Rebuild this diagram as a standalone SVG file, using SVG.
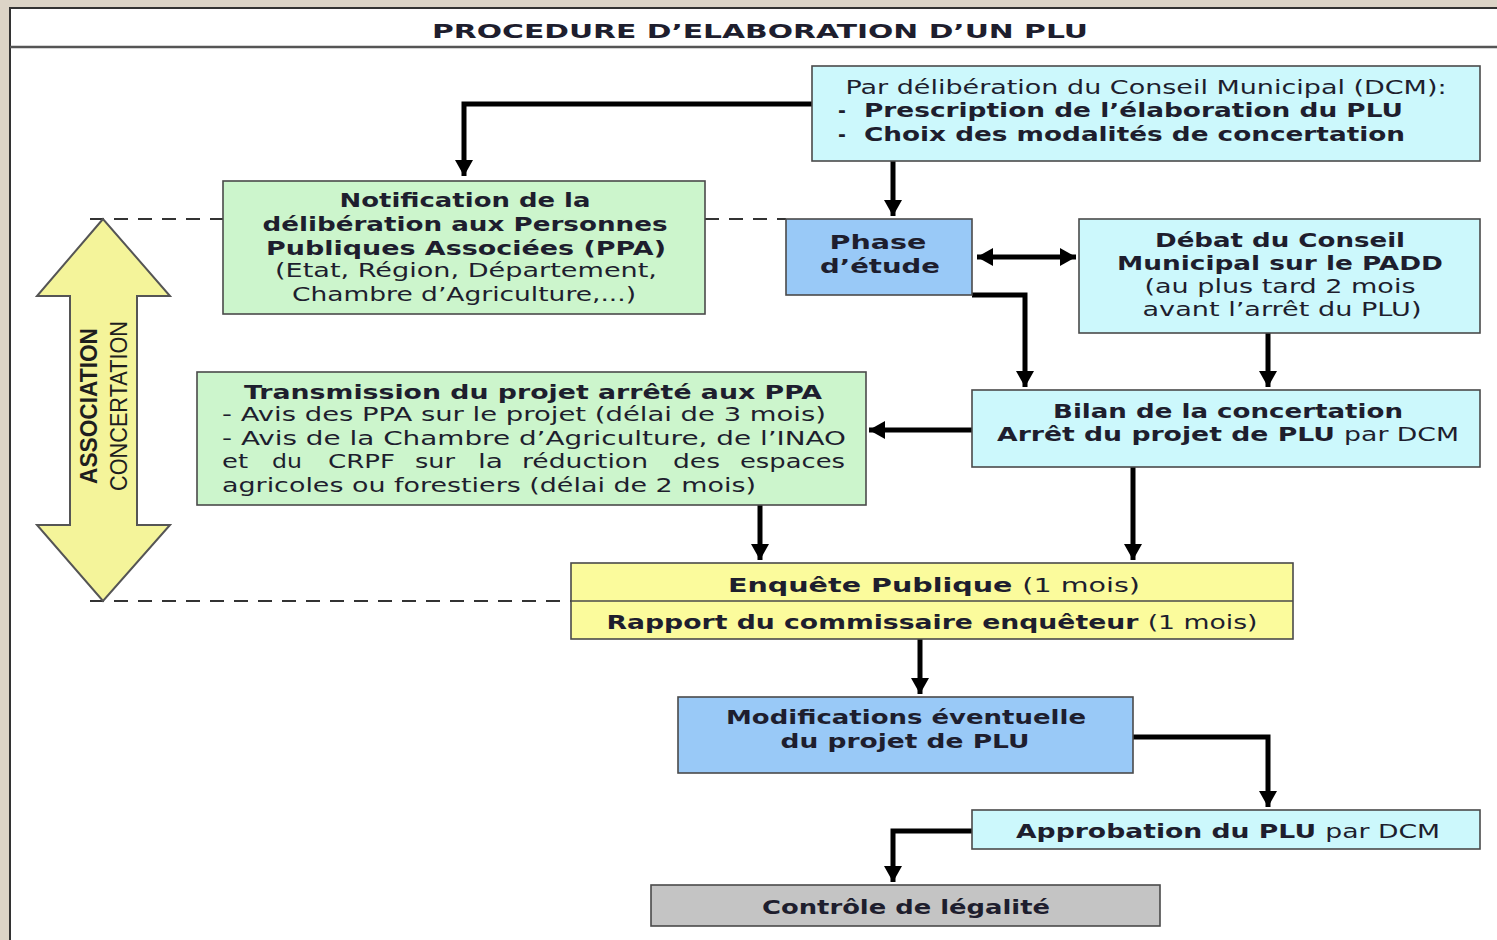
<svg xmlns="http://www.w3.org/2000/svg" width="1497" height="940" viewBox="0 0 1497 940">
<defs>
<style>
.box{stroke:#4a4a4a;stroke-width:1.6}
.cyan{fill:#ccf8fc}
.green{fill:#ccf5cc}
.blue{fill:#99c9f7}
.yellow{fill:#fbfb9c}
.grey{fill:#c4c4c4}
.t{font-family:"DejaVu Sans",Verdana,sans-serif;font-size:19px;fill:#1e1e2e;text-anchor:middle}
.s{text-anchor:start}
.b{font-weight:bold}
.n{font-weight:normal}
.conn{fill:none;stroke:#000;stroke-width:5}
.dash{fill:none;stroke:#333;stroke-width:2;stroke-dasharray:14 10}
</style>
<marker id="ah" markerUnits="userSpaceOnUse" markerWidth="20" markerHeight="20" refX="16" refY="9" orient="auto">
<path d="M0,0 L16,9 L0,18 Z" fill="#000"/>
</marker>
<marker id="as" markerUnits="userSpaceOnUse" markerWidth="20" markerHeight="20" refX="0" refY="9" orient="auto">
<path d="M16,0 L0,9 L16,18 Z" fill="#000"/>
</marker>
</defs>
<rect x="0" y="0" width="1497" height="940" fill="#dcd4c7"/>
<rect x="10" y="8" width="1500" height="940" fill="#ffffff" stroke="#333" stroke-width="2"/>
<line x1="10" y1="47" x2="1497" y2="47" stroke="#555" stroke-width="2.5"/>
<text class="t b" x="760" y="38" textLength="656" lengthAdjust="spacingAndGlyphs">PROCEDURE D’ELABORATION D’UN PLU</text>

<g id="dashes">
<path class="dash" d="M90,219 H223 M705,219 H786"/>
<path class="dash" d="M90,601 H571"/>
</g>

<g id="assoc-arrow">
<path d="M103,219 L37,296 L70,296 L70,525 L37,525 L103,601 L170,525 L137,525 L137,296 L170,296 Z" fill="#f4f49a" stroke="#555" stroke-width="2"/>
<text transform="translate(97,406) rotate(-90)" font-family="'Liberation Sans Narrow','Liberation Sans',sans-serif" font-size="24" font-weight="bold" fill="#1e1e1e" text-anchor="middle" textLength="156" lengthAdjust="spacingAndGlyphs">ASSOCIATION</text>
<text transform="translate(127,406) rotate(-90)" font-family="'Liberation Sans Narrow','Liberation Sans',sans-serif" font-size="24" fill="#1e1e1e" text-anchor="middle" textLength="170" lengthAdjust="spacingAndGlyphs">CONCERTATION</text>
</g>

<g id="connectors">
<path class="conn" d="M812,104 H464 V176" marker-end="url(#ah)"/>
<path class="conn" d="M893,161 V216" marker-end="url(#ah)"/>
<path class="conn" d="M977,257 H1076" marker-start="url(#as)" marker-end="url(#ah)"/>
<path class="conn" d="M972,295 H1025 V387" marker-end="url(#ah)"/>
<path class="conn" d="M1268,333 V387" marker-end="url(#ah)"/>
<path class="conn" d="M972,430 H869" marker-end="url(#ah)"/>
<path class="conn" d="M760,505 V560" marker-end="url(#ah)"/>
<path class="conn" d="M1133,467 V560" marker-end="url(#ah)"/>
<path class="conn" d="M920,639 V694" marker-end="url(#ah)"/>
<path class="conn" d="M1133,737 H1268 V807" marker-end="url(#ah)"/>
<path class="conn" d="M972,831 H893 V882" marker-end="url(#ah)"/>
</g>

<g id="dcm">
<rect class="box cyan" x="812" y="66" width="668" height="95"/>
<text class="t" x="1146" y="94" textLength="601" lengthAdjust="spacingAndGlyphs">Par délibération du Conseil Municipal (DCM):</text>
<text class="t s b" x="838" y="117">-</text>
<text class="t s b" x="864" y="117" textLength="539" lengthAdjust="spacingAndGlyphs">Prescription de l’élaboration du PLU</text>
<text class="t s b" x="838" y="141">-</text>
<text class="t s b" x="864" y="141" textLength="541" lengthAdjust="spacingAndGlyphs">Choix des modalités de concertation</text>
</g>

<g id="notification">
<rect class="box green" x="223" y="181" width="482" height="133"/>
<text class="t b" x="465" y="207" textLength="251" lengthAdjust="spacingAndGlyphs">Notification de la</text>
<text class="t b" x="465" y="231" textLength="405" lengthAdjust="spacingAndGlyphs">délibération aux Personnes</text>
<text class="t b" x="466" y="255" textLength="400" lengthAdjust="spacingAndGlyphs">Publiques Associées (PPA)</text>
<text class="t" x="466" y="277" textLength="382" lengthAdjust="spacingAndGlyphs">(Etat, Région, Département,</text>
<text class="t" x="464" y="301" textLength="344" lengthAdjust="spacingAndGlyphs">Chambre d’Agriculture,...)</text>
</g>

<g id="phase">
<rect class="box blue" x="786" y="219" width="186" height="76"/>
<text class="t b" x="878" y="249" textLength="97" lengthAdjust="spacingAndGlyphs">Phase</text>
<text class="t b" x="880" y="273" textLength="120" lengthAdjust="spacingAndGlyphs">d’étude</text>
</g>

<g id="debat">
<rect class="box cyan" x="1079" y="219" width="401" height="114"/>
<text class="t b" x="1280" y="247" textLength="250" lengthAdjust="spacingAndGlyphs">Débat du Conseil</text>
<text class="t b" x="1280" y="270" textLength="326" lengthAdjust="spacingAndGlyphs">Municipal sur le PADD</text>
<text class="t" x="1280" y="293" textLength="271" lengthAdjust="spacingAndGlyphs">(au plus tard 2 mois</text>
<text class="t" x="1282" y="316" textLength="279" lengthAdjust="spacingAndGlyphs">avant l’arrêt du PLU)</text>
</g>

<g id="bilan">
<rect class="box cyan" x="972" y="390" width="508" height="77"/>
<text class="t b" x="1228" y="418" textLength="350" lengthAdjust="spacingAndGlyphs">Bilan de la concertation</text>
<text class="t b" x="1228" y="441" textLength="462" lengthAdjust="spacingAndGlyphs">Arrêt du projet de PLU <tspan class="n">par DCM</tspan></text>
</g>

<g id="transmission">
<rect class="box green" x="197" y="372" width="669" height="133"/>
<text class="t b" x="533" y="399" textLength="578" lengthAdjust="spacingAndGlyphs">Transmission du projet arrêté aux PPA</text>
<text class="t s" x="222" y="421" textLength="604" lengthAdjust="spacingAndGlyphs">- Avis des PPA sur le projet (délai de 3 mois)</text>
<text class="t s" x="222" y="445" textLength="624" lengthAdjust="spacingAndGlyphs">- Avis de la Chambre d’Agriculture, de l’INAO</text>
<text class="t s" x="222" y="468" textLength="26" lengthAdjust="spacingAndGlyphs">et</text>
<text class="t s" x="272" y="468" textLength="30" lengthAdjust="spacingAndGlyphs">du</text>
<text class="t s" x="328" y="468" textLength="67" lengthAdjust="spacingAndGlyphs">CRPF</text>
<text class="t s" x="415" y="468" textLength="40" lengthAdjust="spacingAndGlyphs">sur</text>
<text class="t s" x="478" y="468" textLength="25" lengthAdjust="spacingAndGlyphs">la</text>
<text class="t s" x="522" y="468" textLength="126" lengthAdjust="spacingAndGlyphs">réduction</text>
<text class="t s" x="673" y="468" textLength="47" lengthAdjust="spacingAndGlyphs">des</text>
<text class="t s" x="740" y="468" textLength="105" lengthAdjust="spacingAndGlyphs">espaces</text>
<text class="t s" x="222" y="492" textLength="534" lengthAdjust="spacingAndGlyphs">agricoles ou forestiers (délai de 2 mois)</text>
</g>

<g id="enquete">
<rect class="box yellow" x="571" y="563" width="722" height="76"/>
<line x1="571" y1="601" x2="1293" y2="601" stroke="#4a4a4a" stroke-width="1.6"/>
<text class="t b" x="934" y="592" textLength="412" lengthAdjust="spacingAndGlyphs">Enquête Publique <tspan class="n">(1 mois)</tspan></text>
<text class="t b" x="932" y="629" textLength="651" lengthAdjust="spacingAndGlyphs">Rapport du commissaire enquêteur <tspan class="n">(1 mois)</tspan></text>
</g>

<g id="modifications">
<rect class="box blue" x="678" y="697" width="455" height="76"/>
<text class="t b" x="906" y="724" textLength="360" lengthAdjust="spacingAndGlyphs">Modifications éventuelle</text>
<text class="t b" x="905" y="748" textLength="249" lengthAdjust="spacingAndGlyphs">du projet de PLU</text>
</g>

<g id="approbation">
<rect class="box cyan" x="972" y="810" width="508" height="39"/>
<text class="t b" x="1228" y="838" textLength="424" lengthAdjust="spacingAndGlyphs">Approbation du PLU <tspan class="n">par DCM</tspan></text>
</g>

<g id="controle">
<rect class="box grey" x="651" y="885" width="509" height="41"/>
<text class="t b" x="906" y="914" textLength="288" lengthAdjust="spacingAndGlyphs">Contrôle de légalité</text>
</g>
</svg>
